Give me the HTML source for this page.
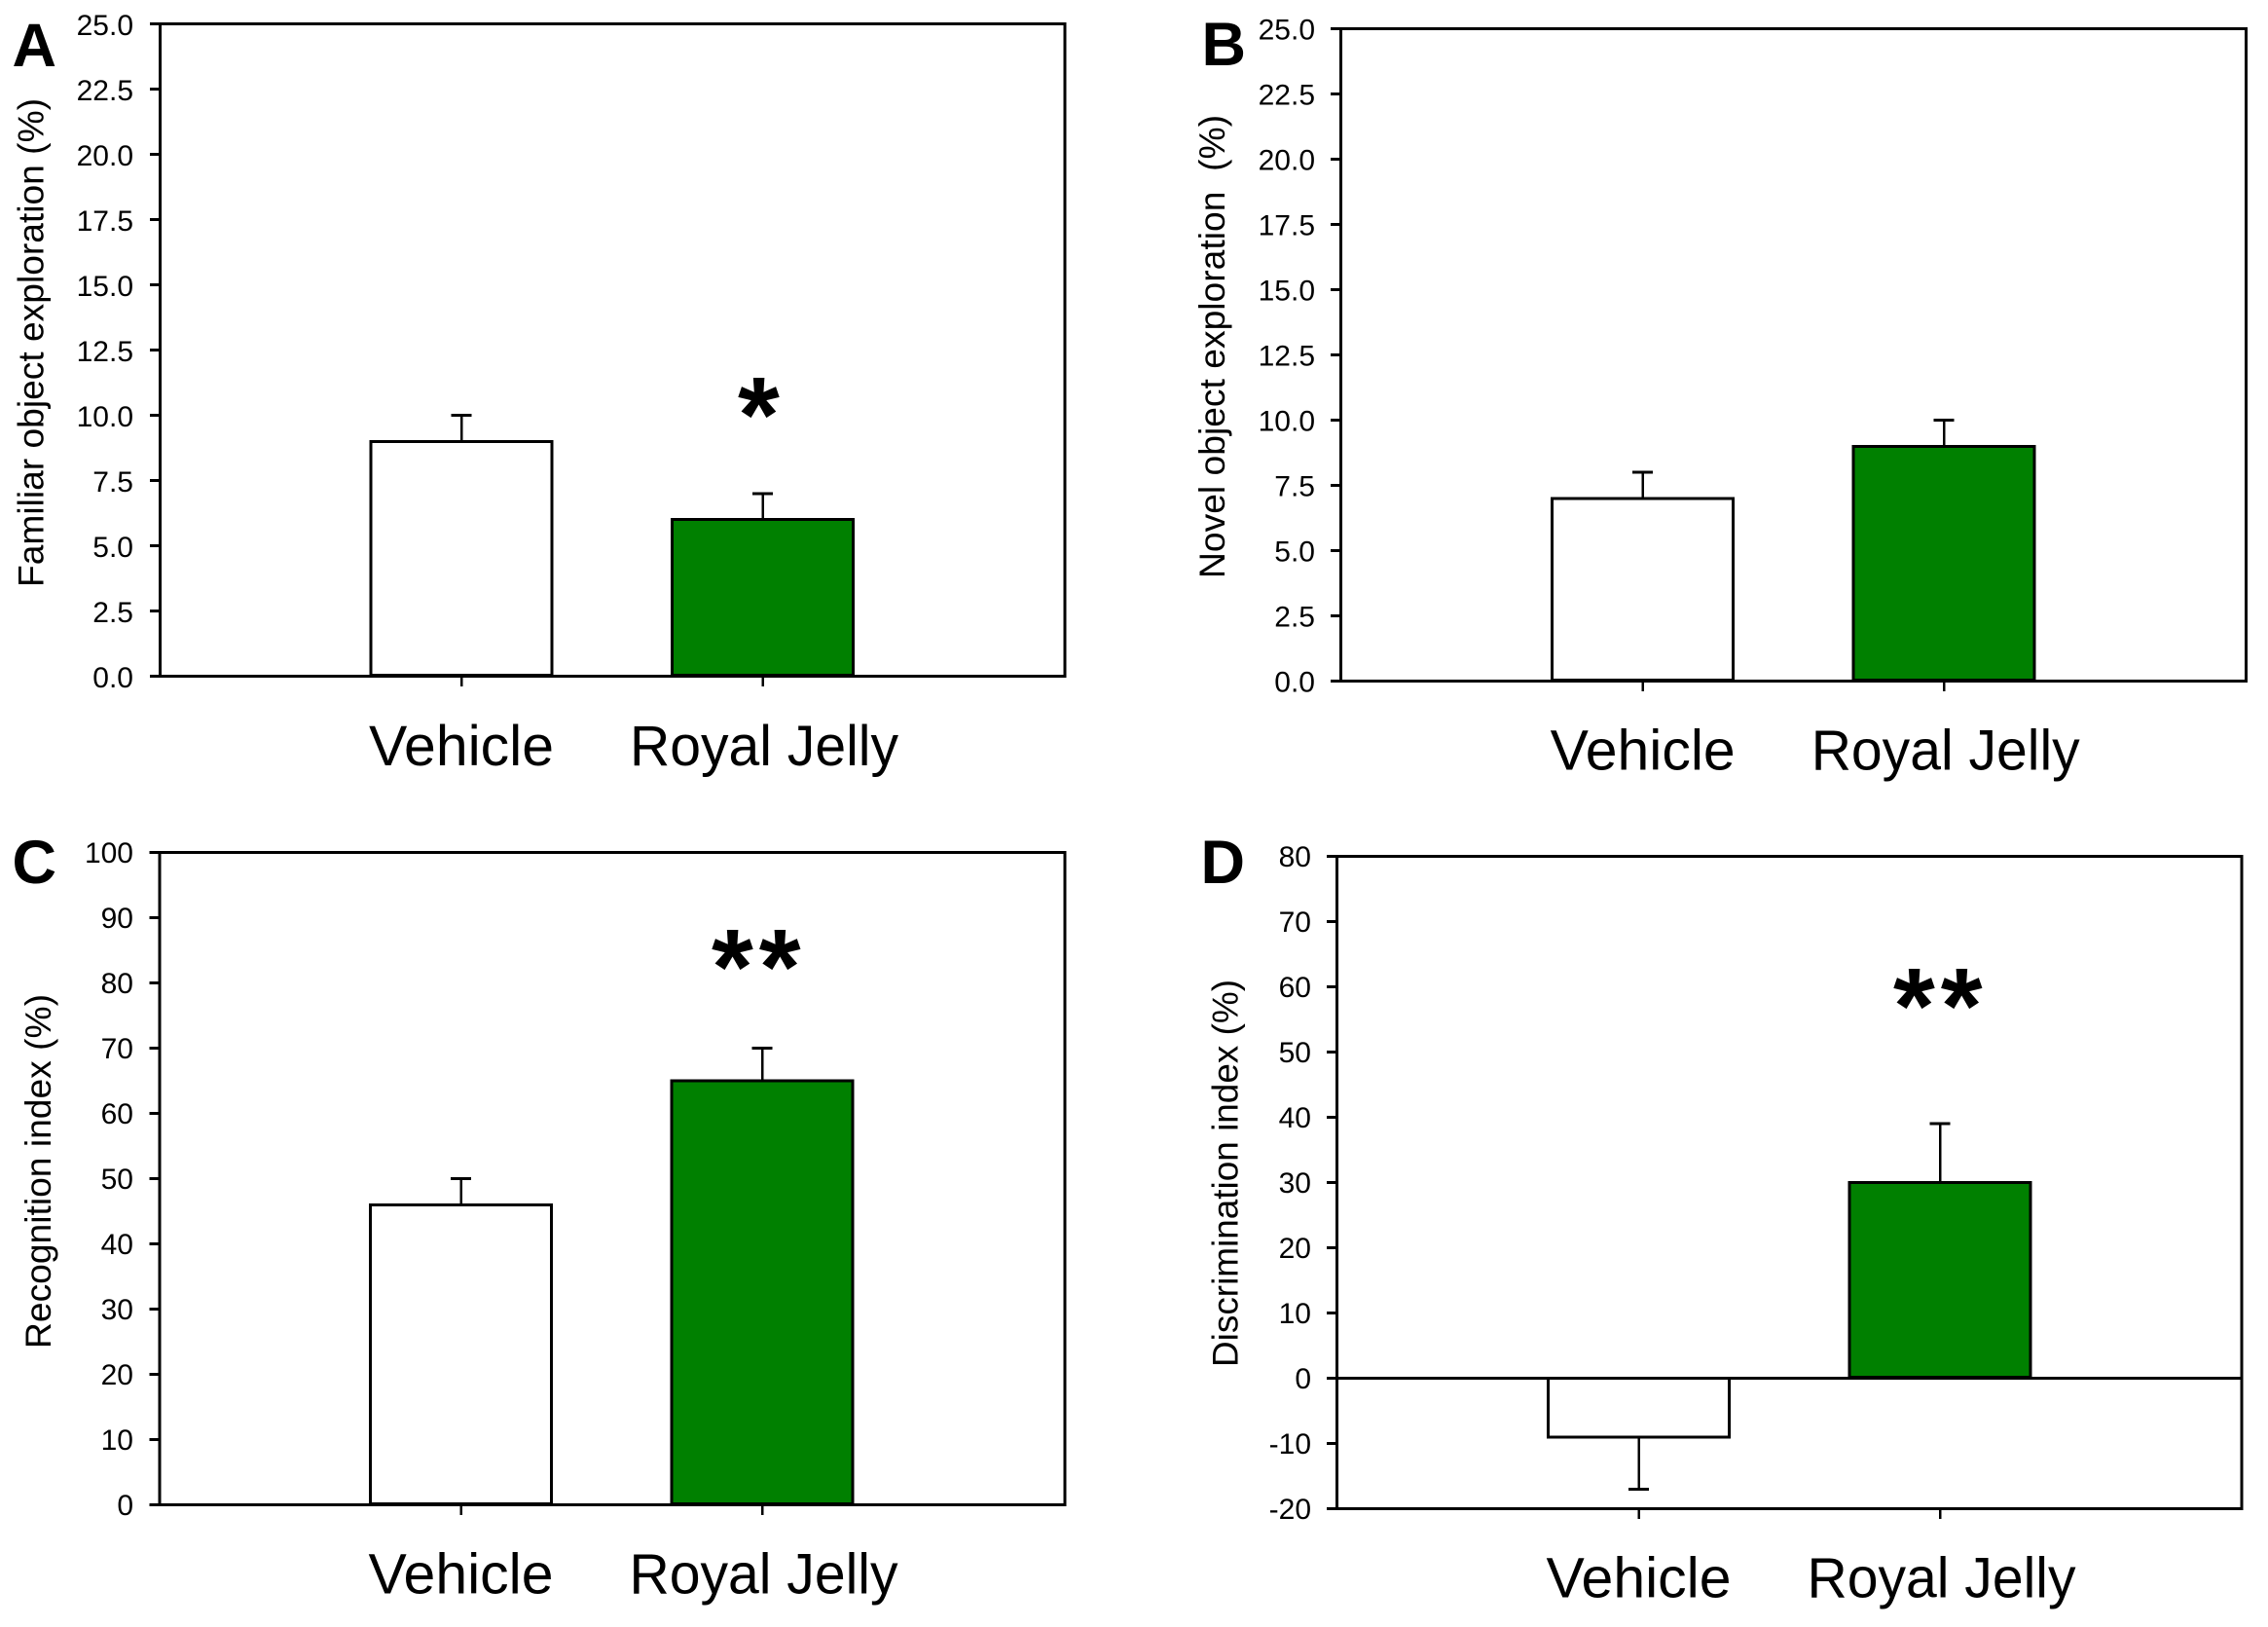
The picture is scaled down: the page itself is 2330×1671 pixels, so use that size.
<!DOCTYPE html>
<html lang="en">
<head>
<meta charset="utf-8">
<title>Royal Jelly object exploration bar charts</title>
<style>
  html, body { margin: 0; padding: 0; background: #ffffff; }
  svg { display: block; }
  text { font-family: "Liberation Sans", Arial, sans-serif; fill: #000000; }
  .letter { font-size: 63px; font-weight: bold; }
  .y-title { font-size: 37px; }
  .star { font-size: 110px; font-weight: bold; letter-spacing: 6px; }
  .tick-label { font-size: 30px; text-anchor: end; }
  .cat-label { font-size: 58px; text-anchor: middle; }
  line, rect { shape-rendering: crispEdges; }
</style>
</head>
<body>
<svg id="figure" width="2330" height="1671" viewBox="0 0 2330 1671" xmlns="http://www.w3.org/2000/svg">
  <rect x="0" y="0" width="2330" height="1671" fill="#ffffff"></rect>

  <g id="panel-a">
    <text class="letter" x="12.5" y="68">A</text>
    <text class="y-title" transform="translate(44.5 603) rotate(-90)" textLength="502" lengthAdjust="spacingAndGlyphs">Familiar object exploration (%)</text>
    <text class="star" x="758" y="464">*</text>
  </g>

  <g id="panel-b">
    <text class="letter" x="1234.5" y="67">B</text>
    <text class="y-title" transform="translate(1258 594) rotate(-90)" textLength="476" lengthAdjust="spacingAndGlyphs" xml:space="preserve">Novel object exploration  (%)</text>
  </g>

  <g id="panel-c">
    <text class="letter" x="12.5" y="907">C</text>
    <text class="y-title" transform="translate(52 1385) rotate(-90)" textLength="364" lengthAdjust="spacingAndGlyphs">Recognition index (%)</text>
    <text class="star" x="731" y="1031">**</text>
  </g>

  <g id="panel-d">
    <text class="letter" x="1233.5" y="907">D</text>
    <text class="y-title" transform="translate(1271.5 1404) rotate(-90)" textLength="398" lengthAdjust="spacingAndGlyphs">Discrimination index (%)</text>
    <text class="star" x="1945" y="1071">**</text>
  </g>
</svg>

<script>
// Data
const categories = ['Vehicle', 'Royal Jelly'];
const barColors = ['#ffffff', '#008000'];

const panelAValues = [9, 6];
const panelAErrors = [1, 1];
const panelATicks = ['0.0', '2.5', '5.0', '7.5', '10.0', '12.5', '15.0', '17.5', '20.0', '22.5', '25.0'];

const panelBValues = [7, 9];
const panelBErrors = [1, 1];
const panelBTicks = ['0.0', '2.5', '5.0', '7.5', '10.0', '12.5', '15.0', '17.5', '20.0', '22.5', '25.0'];

const panelCValues = [46, 65];
const panelCErrors = [4, 5];
const panelCTicks = ['0', '10', '20', '30', '40', '50', '60', '70', '80', '90', '100'];

const panelDValues = [-9, 30];
const panelDErrors = [8, 9];
const panelDTicks = ['-20', '-10', '0', '10', '20', '30', '40', '50', '60', '70', '80'];

// Layout of each panel
const panelA = { id: 'panel-a', key: 'a', values: panelAValues, errors: panelAErrors, ticks: panelATicks,
  left: 164.5, right: 1094, top: 24.5, bottom: 694.5, firstCat: 474, catStep: 309.5, labelRight: 137, labelBase: 786, labelDy: 11.5 };
const panelB = { id: 'panel-b', key: 'b', values: panelBValues, errors: panelBErrors, ticks: panelBTicks,
  left: 1377.5, right: 2307.5, top: 29.5, bottom: 699.5, firstCat: 1687.7, catStep: 309.5, labelRight: 1351, labelBase: 790.5, labelDy: 11 };
const panelC = { id: 'panel-c', key: 'c', values: panelCValues, errors: panelCErrors, ticks: panelCTicks,
  left: 164, right: 1094, top: 875.5, bottom: 1545.5, firstCat: 473.5, catStep: 309.5, labelRight: 137, labelBase: 1636.5, labelDy: 10.5 };
const panelD = { id: 'panel-d', key: 'd', values: panelDValues, errors: panelDErrors, ticks: panelDTicks,
  left: 1373.5, right: 2303, top: 879.5, bottom: 1549.5, firstCat: 1683.5, catStep: 309.5, labelRight: 1347, labelBase: 1640.5, labelDy: 10.5 };

const panels = [panelA, panelB, panelC, panelD];

const SVG_NS = 'http://www.w3.org/2000/svg';
const BAR_WIDTH = 186;
const CAP_HALF = 10.5;
const TICK_LEN = 10.5;
const RJ_LABEL_SHIFT = 1.5;
const LABEL_WIDTHS = ['190', '276'];

function makeNode(tag, attrs, parent) {
  const node = document.createElementNS(SVG_NS, tag);
  Object.keys(attrs).forEach(function (k) { node.setAttribute(k, attrs[k]); });
  parent.appendChild(node);
  return node;
}

function strokeLine(x1, y1, x2, y2, width, parent) {
  return makeNode('line', { x1: x1, y1: y1, x2: x2, y2: y2, stroke: '#000000', 'stroke-width': width }, parent);
}

function drawPanel(p) {
  const g = document.getElementById(p.id);
  const yMin = parseFloat(p.ticks[0]);
  const yMax = parseFloat(p.ticks[p.ticks.length - 1]);
  const yScale = function (v) { return p.bottom - (v - yMin) / (yMax - yMin) * (p.bottom - p.top); };
  const xScale = function (i) { return p.firstCat + i * p.catStep; };
  const zeroY = yScale(0);

  // bars and error bars
  p.values.forEach(function (value, i) {
    const cx = xScale(i);
    const vy = yScale(value);
    const endY = value >= 0 ? yScale(value + p.errors[i]) : yScale(value - p.errors[i]);

    const stem = strokeLine(cx, vy, cx, endY, 2.5, g);
    
    

    const cap = strokeLine(cx - CAP_HALF, endY, cx + CAP_HALF, endY, 3, g);
    
    

    const baseY = value >= 0 ? zeroY - 1 : zeroY;
    const bar = makeNode('rect', { x: cx - BAR_WIDTH / 2, y: Math.min(vy, baseY), width: BAR_WIDTH, height: Math.abs(baseY - vy),
      fill: barColors[i], stroke: '#000000', 'stroke-width': 3 }, g);
    
    

    const xTick = strokeLine(cx, p.bottom, cx, p.bottom + TICK_LEN, 2.5, g);
    
    

    const labelX = i === 1 ? cx + RJ_LABEL_SHIFT : cx;
    const label = makeNode('text', { x: labelX, y: p.labelBase, 'class': 'cat-label',
      textLength: LABEL_WIDTHS[i], lengthAdjust: 'spacingAndGlyphs' }, g);
    label.textContent = categories[i];
    
    
  });

  // plot frame
  const topLine = strokeLine(p.left - TICK_LEN, p.top, p.right + 1.5, p.top, 3, g);
  
  

  const leftLine = strokeLine(p.left, p.top, p.left, p.bottom, 3, g);
  
  

  const rightLine = strokeLine(p.right, p.top, p.right, p.bottom, 3, g);
  
  

  const bottomLine = strokeLine(p.left - TICK_LEN, p.bottom, p.right + 1.5, p.bottom, 3, g);
  
  

  if (zeroY < p.bottom - 1) {
    const zeroLine = strokeLine(p.left - TICK_LEN, zeroY, p.right + 1.5, zeroY, 3, g);
    
    
  }

  // y ticks and labels
  p.ticks.forEach(function (t) {
    const y = yScale(parseFloat(t));
    const tick = strokeLine(p.left - TICK_LEN, y, p.left, y, 3, g);
    
    

    const tickLabel = makeNode('text', { x: p.labelRight, y: y + p.labelDy, 'class': 'tick-label' }, g);
    tickLabel.textContent = t;
    
    
  });
}

panels.forEach(drawPanel);
</script>
</body>
</html>
